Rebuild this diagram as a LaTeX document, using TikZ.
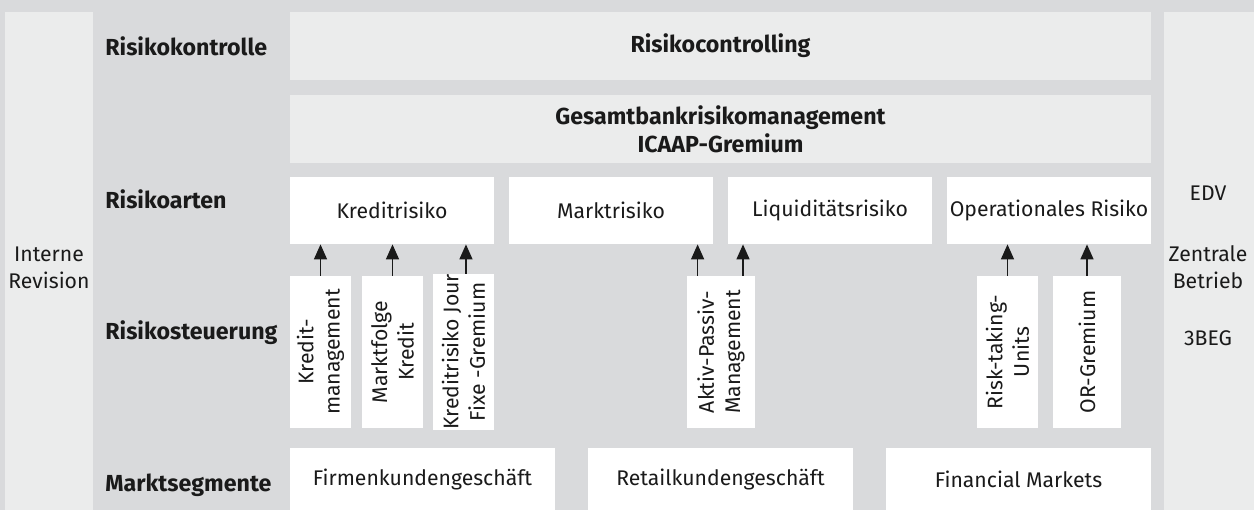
\documentclass[tikz,border=0pt]{standalone}
\usepackage{fontspec}
\setmainfont{Fira Sans}
\usetikzlibrary{arrows.meta,calc}
\definecolor{bggray}{HTML}{D9DADC}
\definecolor{palegray}{HTML}{EBECEC}
\definecolor{inkblack}{HTML}{1A1A1A}

\begin{document}
\begin{tikzpicture}[x=0.5pt, y=-0.5pt,
    font=\fontsize{10.6}{13.2}\selectfont, text=inkblack,
    column/.style ={fill=palegray, inner sep=0pt, minimum width=44pt, minimum height=249pt},
    board/.style ={fill=palegray, inner sep=0pt, minimum width=430.5pt, minimum height=34pt,
                   align=center, font=\fontsize{11.6}{14}\selectfont\bfseries},
    risk/.style ={fill=white, inner sep=0pt, minimum width=102pt, minimum height=33.5pt},
    unit/.style ={fill=white, inner sep=0pt, rotate=90, minimum width=76pt, align=center},
    segment/.style ={fill=white, inner sep=0pt, minimum width=132.5pt, minimum height=31pt},
    level/.style ={anchor=west, inner sep=0pt, font=\fontsize{11.6}{14}\selectfont\bfseries},
    upward/.style ={-{Triangle[width=6.5pt,length=7.5pt]}, line width=0.75pt, draw=inkblack}]
   \fill[bggray] (0,0) rectangle (1254,510);
   \useasboundingbox (0,0) rectangle (1254,510);
   % side columns
   \node[column] (revision) at (49,261) {};
   \node[align=center] (revisiontext) at (49,268) {Interne\\Revision};
   \node[column, minimum width=45pt] (service) at (1209,261) {};
   \node (edv) at (1208,193) {EDV};
   \node[align=center] (betrieb) at (1208,267) {Zentrale\\Betrieb};
   \node (beg) at (1208,338) {3BEG};
   % row labels
   \node[level] (kontrolle) at (105,46) {Risikokontrolle};
   \node[level] (arten) at (105,199) {Risikoarten};
   \node[level] (steuerung) at (105,333) {Risikosteuerung};
   \node[level] (segmente) at (105,485) {Marktsegmente};
   % committees
   \node[board] (controlling) at (720.5,46) {Risikocontrolling};
   \node[board] (icaap) at (720.5,129) {Gesamtbankrisikomanagement\\ICAAP-Gremium};
   % risk types
   \node[risk] (kredit) at (392,210.5) {Kreditrisiko};
   \node[risk] (markt) at (611,210.5) {Marktrisiko};
   \node[risk] (liquiditaet) at (830,210.5) {Liquiditätsrisiko};
   \node[risk] (oprisk) at (1049,210.5) {Operationales Risiko};
   % steering units (rotated: east is the top side)
   \node[unit, minimum height=30.5pt] (kreditmgmt) at (320.5,352) {Kredit-\\management};
   \node[unit, minimum height=30.5pt] (marktfolge) at (392.5,352) {Marktfolge\\Kredit};
   \node[unit, minimum height=30.5pt] (jourfixe) at (463.5,352) {Kreditrisiko Jour\\Fixe -Gremium};
   \node[unit, minimum height=34pt] (aktivpassiv) at (721,352) {Aktiv-Passiv-\\Management};
   \node[unit, minimum height=30.5pt] (risktaking) at (1007.5,352) {Risk-taking-\\Units};
   \node[unit, minimum height=34pt] (orgremium) at (1087,352) {OR-Gremium};
   % market segments
   \node[segment] (firmen) at (422.5,479) {Firmenkundengeschäft};
   \node[segment] (retail) at (720.5,479) {Retailkundengeschäft};
   \node[segment] (financial) at (1018.5,479) {Financial Markets};
   % arrows
   \coordinate (jfup) at ($(jourfixe.north east)!0.54!(jourfixe.south east)$);
   \coordinate (apleft) at ($(aktivpassiv.north east)!0.16!(aktivpassiv.south east)$);
   \coordinate (apright) at ($(aktivpassiv.north east)!0.82!(aktivpassiv.south east)$);
   \draw[upward] (kreditmgmt.east) -- (kreditmgmt.east |- kredit.south);
   \draw[upward] (marktfolge.east) -- (marktfolge.east |- kredit.south);
   \draw[upward] (jfup) -- (jfup |- kredit.south);
   \draw[upward] (apleft) -- (apleft |- markt.south);
   \draw[upward] (apright) -- (apright |- liquiditaet.south);
   \draw[upward] (risktaking.east) -- (risktaking.east |- oprisk.south);
   \draw[upward] (orgremium.east) -- (orgremium.east |- oprisk.south);
 \end{tikzpicture}
\end{document}
